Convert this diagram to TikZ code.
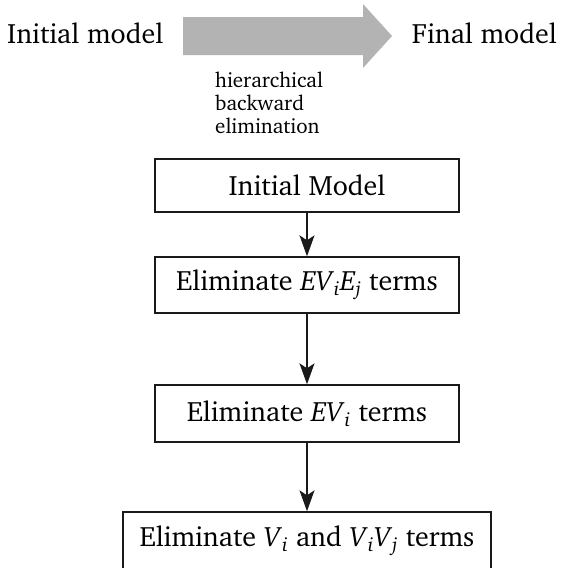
\documentclass[tikz,border=0pt]{standalone}
\usepackage[T1]{fontenc}
\usepackage{charter}
\usetikzlibrary{arrows.meta}
\definecolor{my_gray}{HTML}{B3B3B3}
\definecolor{my_line}{HTML}{1A1A1A}

\begin{document}
\begin{tikzpicture}[
    x=1pt, y=1pt,
    bigtext/.style={font=\fontsize{28}{33}\selectfont, inner sep=0pt},
    smalltext/.style={font=\fontsize{21}{23.3}\selectfont, inner sep=0pt, align=left},
    box/.style={draw=my_line, line width=1.4pt, minimum height=55pt, inner sep=0pt,
        font=\fontsize{28}{33}\selectfont},
    flow/.style={-{Stealth[length=21pt, width=15pt, inset=5pt]}, line width=1.4pt, my_line}
]
\useasboundingbox (0,0) rectangle (562,-568);

% ===== Kopfzeile: Ausgangs- und Endmodell =====
\node[bigtext, anchor=base west] (initial) at (7,-43) {Initial model};
\node[bigtext, anchor=base east] (final) at (557,-43) {Final model};
\fill[my_gray] (183,-17) -- (363,-17) -- (363,-4) -- (392,-36)
    -- (363,-68) -- (363,-55) -- (183,-55) -- cycle;
\node[smalltext, anchor=base west] (method) at (215,-133.6)
    {hierarchical\\backward\\elimination};

% ===== Ablauf der Elimination =====
\node[box, minimum width=304pt, minimum height=53pt] (start) at (307,-185.5) {Initial Model};
\node[box, minimum width=304pt, minimum height=56pt] (elimEVE) at (307,-285)
    {Eliminate \textit{EV}\textsubscript{\itshape i}\textit{E}\textsubscript{\itshape j} terms};
\node[box, minimum width=304pt, minimum height=57pt] (elimEV) at (307,-413.5)
    {Eliminate \textit{EV}\textsubscript{\itshape i} terms};
\node[box, minimum width=368pt, minimum height=58pt] (elimV) at (307,-541)
    {Eliminate \textit{V}\textsubscript{\itshape i} and \textit{V}\textsubscript{\itshape i}\textit{V}\textsubscript{\itshape j} terms};

\draw[flow] (start) -- (elimEVE);
\draw[flow] (elimEVE) -- (elimEV);
\draw[flow] (elimEV) -- (elimV);

\end{tikzpicture}
\end{document}
